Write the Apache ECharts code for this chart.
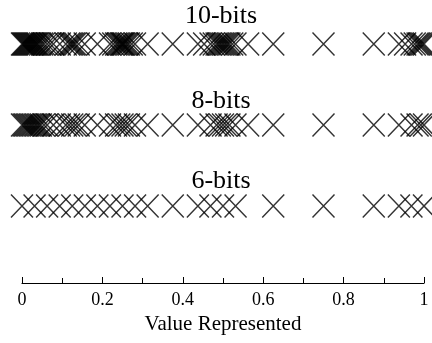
<!DOCTYPE html>
<html>
<head>
<meta charset="utf-8">
<script src="https://cdn.jsdelivr.net/npm/echarts@6/dist/echarts.min.js"></script>
<style>
  html, body { margin: 0; padding: 0; background: #fff; }
  #chart { width: 432px; height: 343px; }
</style>
</head>
<body>
<div id="chart"></div>
<script>
// values represented by each word length
const bits10 = [0, 0.0025, 0.005, 0.0075, 0.01, 0.0125, 0.015, 0.0175, 0.02, 0.0225, 0.025,
  0.0275, 0.03, 0.0325, 0.035, 0.0375, 0.04, 0.045, 0.05, 0.055, 0.0625, 0.07, 0.078,
  0.094, 0.109, 0.117, 0.121, 0.125, 0.129, 0.133, 0.141, 0.156, 0.1875, 0.219, 0.227,
  0.234, 0.238, 0.242, 0.246, 0.248, 0.25, 0.252, 0.254, 0.258, 0.262, 0.266, 0.273,
  0.281, 0.3125, 0.375, 0.4375, 0.453, 0.469, 0.477, 0.484, 0.488, 0.492, 0.496, 0.5,
  0.504, 0.508, 0.512, 0.516, 0.523, 0.531, 0.5625, 0.625, 0.75, 0.875, 0.9375, 0.953,
  0.969, 0.977, 0.984, 0.988, 0.992, 0.996, 1];
const bits8 = [0, 0.004, 0.0078, 0.0117, 0.0156, 0.0195, 0.0234, 0.027, 0.03125, 0.035,
  0.039, 0.043, 0.047, 0.0547, 0.0625, 0.078, 0.094, 0.109, 0.117, 0.125, 0.133, 0.141,
  0.156, 0.1875, 0.219, 0.234, 0.242, 0.25, 0.258, 0.266, 0.281, 0.3125, 0.375, 0.4375,
  0.469, 0.484, 0.492, 0.5, 0.508, 0.516, 0.531, 0.5625, 0.625, 0.75, 0.875, 0.9375,
  0.969, 0.984, 0.992, 1];
const bits6 = [0, 0.03125, 0.0625, 0.09375, 0.125, 0.15625, 0.1875, 0.21875, 0.25, 0.28125,
  0.3125, 0.375, 0.4375, 0.46875, 0.5, 0.53125, 0.625, 0.75, 0.875, 0.9375, 0.96875, 1];
const rowNames = ['6-bits', '8-bits', '10-bits'];
const rowTitleY = [181, 101, 16];
const xTicks = [0, 0.2, 0.4, 0.6, 0.8, 1];

const font = '"Liberation Serif", "Times New Roman", serif';
const cross = 'path://M0,0L20,20M20,0L0,20';

const chart = echarts.init(document.getElementById('chart'));

const rows = [bits6, bits8, bits10];
const series = rows.map((vals, i) => ({
  name: rowNames[i],
  type: 'scatter',
  symbol: cross,
  symbolSize: [22, 23],
  clip: false,
  silent: true,
  itemStyle: { color: 'transparent', borderColor: '#000', borderWidth: 1.5 },
  data: vals.map((v) => [v, i])
}));

chart.setOption({
  animation: false,
  grid: { left: 22, right: 8, top: 19.7, bottom: 60 },
  xAxis: {
    type: 'value',
    min: 0,
    max: 1,
    interval: 0.2,
    name: 'Value Represented',
    nameLocation: 'middle',
    nameGap: 30,
    nameTextStyle: { fontFamily: font, fontSize: 21, color: '#000' },
    axisLine: { onZero: false, lineStyle: { color: '#000', width: 1.2 } },
    axisTick: { inside: true, length: 6, lineStyle: { color: '#000' } },
    minorTick: { show: true, splitNumber: 2, length: 5, lineStyle: { color: '#000' } },
    splitLine: { show: false },
    axisLabel: {
      color: '#000',
      fontFamily: font,
      fontSize: 18,
      margin: 8,
      formatter: (v) => (xTicks.indexOf(+v.toFixed(1)) >= 0 ? String(+v.toFixed(1)) : '')
    }
  },
  yAxis: { type: 'value', min: -0.95, max: 2.3, show: false },
  graphic: rowNames.map((t, i) => ({
    type: 'text',
    x: 221,
    y: rowTitleY[i],
    style: {
      text: t,
      fill: '#000',
      font: '26px ' + font,
      textAlign: 'center',
      textVerticalAlign: 'middle'
    }
  })),
  series
});
</script>
</body>
</html>
